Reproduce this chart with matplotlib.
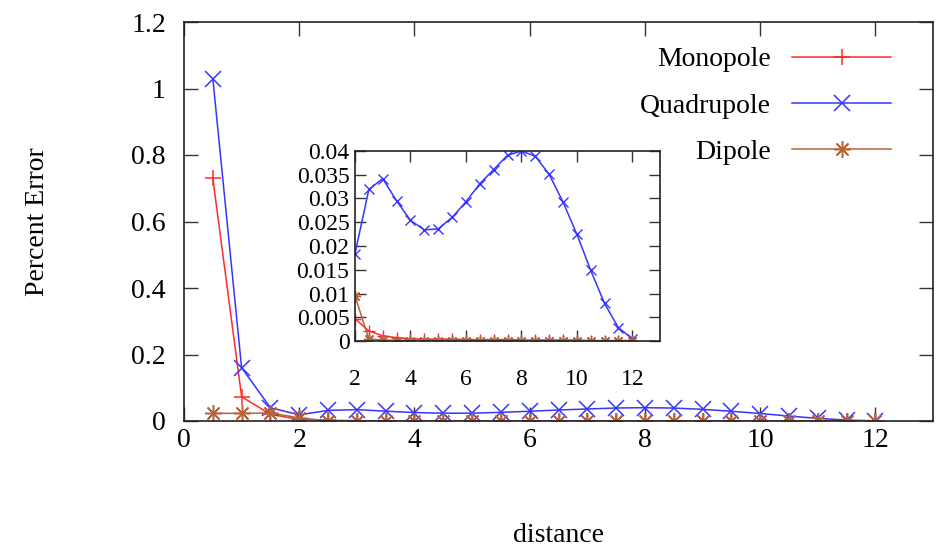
import matplotlib
matplotlib.use('Agg')
import matplotlib.pyplot as plt

plt.rcParams['font.family'] = ['Liberation Serif', 'DejaVu Serif']

# distance samples, shared by the main plot and the inset
distance = [0.5, 1.0, 1.5, 2.0, 2.5, 3.0, 3.5, 4.0, 4.5, 5.0, 5.5, 6.0,
            6.5, 7.0, 7.5, 8.0, 8.5, 9.0, 9.5, 10.0, 10.5, 11.0, 11.5, 12.0]

monopole = [0.73, 0.073, 0.02, 0.0047, 0.0021, 0.0011, 0.0007, 0.0005,
            0.0004, 0.0004, 0.0004, 0.0003, 0.0003, 0.0003, 0.0003, 0.0002,
            0.0002, 0.0002, 0.0002, 0.0002, 0.0001, 0.0001, 0.0001, 0.0001]
quadrupole = [1.03, 0.16, 0.04, 0.0184, 0.0319, 0.0342, 0.0295, 0.0254,
              0.0234, 0.0236, 0.0260, 0.0293, 0.0331, 0.0361, 0.0391, 0.0400,
              0.0389, 0.0351, 0.0293, 0.0225, 0.0149, 0.0079, 0.0028, 0.0005]
dipole = [0.023, 0.023, 0.024, 0.0095, 0.0004, 0.0002, 0.0001, 0.0001,
          0.0001, 0.0001, 0.0, 0.0, 0.0, 0.0, 0.0, 0.0,
          0.0, 0.0, 0.0, 0.0, 0.0, 0.0, 0.0, 0.0]

main_yticks = [0, 0.2, 0.4, 0.6, 0.8, 1.0, 1.2]
main_ylabels = ['0', '0.2', '0.4', '0.6', '0.8', '1', '1.2']
main_xticks = [0, 2, 4, 6, 8, 10, 12]
inset_yticks = [0, 0.005, 0.01, 0.015, 0.02, 0.025, 0.03, 0.035, 0.04]
inset_ylabels = ['0', '0.005', '0.01', '0.015', '0.02', '0.025', '0.03', '0.035', '0.04']
inset_xticks = [2, 4, 6, 8, 10, 12]

RED = '#ff2a2a'
BLUE = '#3535ff'
BROWN = '#b5643c'
ASTERISK = (8, 2, 0)
FS = 20

W, H = 943, 547
fig = plt.figure(figsize=(W / 100, H / 100), dpi=100)


def frac(x0, y0, x1, y1):
    # pixel box -> figure fraction [left, bottom, width, height]
    return [x0 / W, 1 - y1 / H, (x1 - x0) / W, (y1 - y0) / H]


def style_axes(ax, size, ticklen, xpad, ypad):
    for s in ax.spines.values():
        s.set_linewidth(1.2)
        s.set_color('#222222')
    ax.tick_params(direction='in', top=True, right=True, length=ticklen,
                   width=1.0, color='#333333', labelsize=size)
    ax.tick_params(axis='x', pad=xpad)
    ax.tick_params(axis='y', pad=ypad)


# main panel
ax = fig.add_axes(frac(184, 22, 933, 421))
ax.plot(distance, monopole, color=RED, lw=1.1, marker='+', ms=12, mew=1.1,
        label='Monopole')
ax.plot(distance, quadrupole, color=BLUE, lw=1.1, marker='x', ms=11, mew=1.1,
        label='Quadrupole')
ax.plot(distance, dipole, color=BROWN, lw=1.1, marker=ASTERISK, ms=12, mew=1.1,
        label='Dipole')
ax.set_xlim(0, 13)
ax.set_ylim(0, 1.2)
ax.set_xticks(main_xticks)
ax.set_xticklabels([str(t) for t in main_xticks])
ax.set_yticks(main_yticks)
ax.set_yticklabels(main_ylabels)
style_axes(ax, FS, 10, 5, 13)

leg = ax.legend(loc='upper right', bbox_to_anchor=(891 / W, 1 - 47 / H),
                bbox_transform=fig.transFigure, frameon=False, markerfirst=False,
                fontsize=FS, handlelength=3.56, handletextpad=0.76,
                labelspacing=0.745, borderpad=0, borderaxespad=0)

fig.text(38 / W, 1 - 222 / H, 'Percent Error', rotation=90, fontsize=FS,
         ha='center', va='center')
fig.text(558 / W, 1 - 536 / H, 'distance', fontsize=FS, ha='center', va='center')

# inset panel
ins = fig.add_axes(frac(355, 151, 660, 341))
ins.plot(distance, monopole, color=RED, lw=1.1, marker='+', ms=8, mew=1.0)
ins.plot(distance, quadrupole, color=BLUE, lw=1.1, marker='x', ms=7.5, mew=1.0)
ins.plot(distance, dipole, color=BROWN, lw=1.1, marker=ASTERISK, ms=8, mew=1.0)
ins.set_xlim(2, 13)
ins.set_ylim(0, 0.04)
ins.set_xticks(inset_xticks)
ins.set_xticklabels([str(t) for t in inset_xticks])
ins.set_yticks(inset_yticks)
ins.set_yticklabels(inset_ylabels)
style_axes(ins, 17, 8, 20, 4)

fig.savefig('out.png', dpi=100)
